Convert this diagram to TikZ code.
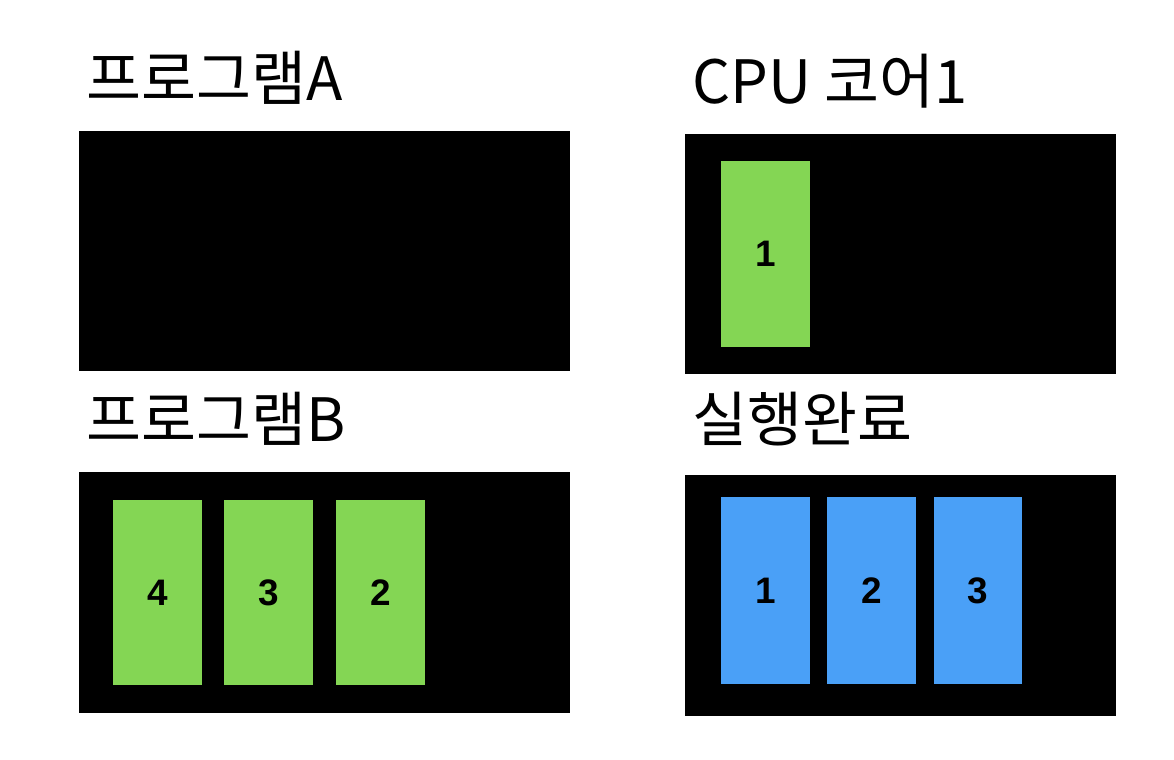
\documentclass[tikz,border=0pt]{standalone}
\usepackage{fontspec}
\setmainfont{Noto Sans CJK KR}
\newfontfamily\digitfont{Liberation Sans}
\begin{document}
\begin{tikzpicture}[x=0.02cm,y=-0.02cm,
  panel/.style={fill=black,draw=none,inner sep=0,minimum width=#1,anchor=north west},
  title/.style={anchor=base west,inner sep=0,font=\fontsize{34}{40}\selectfont},
  waitjob/.style={fill=jobgreen,inner sep=0,minimum width=1.78cm,minimum height=3.72cm,font=\digitfont\bfseries\fontsize{21}{25}\selectfont},
  donejob/.style={fill=jobblue,inner sep=0,minimum width=1.78cm,minimum height=3.74cm,font=\digitfont\bfseries\fontsize{21}{25}\selectfont}]
\definecolor{jobgreen}{HTML}{84D654}
\definecolor{jobblue}{HTML}{4AA0F7}
\useasboundingbox (0,0) rectangle (1174,760);

\node[title] (TA) at (86,101) {프로그램A};
\node[title] (TC) at (692,104) {CPU 코어1};
\node[title] (TB) at (86,441) {프로그램B};
\node[title] (TD) at (692,441) {실행완료};

\node[panel=9.82cm,minimum height=4.80cm] (PA) at (79,131) {};
\node[panel=8.62cm,minimum height=4.80cm] (PC) at (685,134) {};
\node[panel=9.82cm,minimum height=4.82cm] (PB) at (79,472) {};
\node[panel=8.62cm,minimum height=4.82cm] (PD) at (685,475) {};

\node[waitjob] (C1) at (765.5,254) {1};

\node[waitjob] (B4) at (157.5,592.5) {4};
\node[waitjob] (B3) at (268.5,592.5) {3};
\node[waitjob] (B2) at (380.5,592.5) {2};

\node[donejob] (D1) at (765.5,590.5) {1};
\node[donejob] (D2) at (871.5,590.5) {2};
\node[donejob] (D3) at (978,590.5) {3};
\end{tikzpicture}
\end{document}
